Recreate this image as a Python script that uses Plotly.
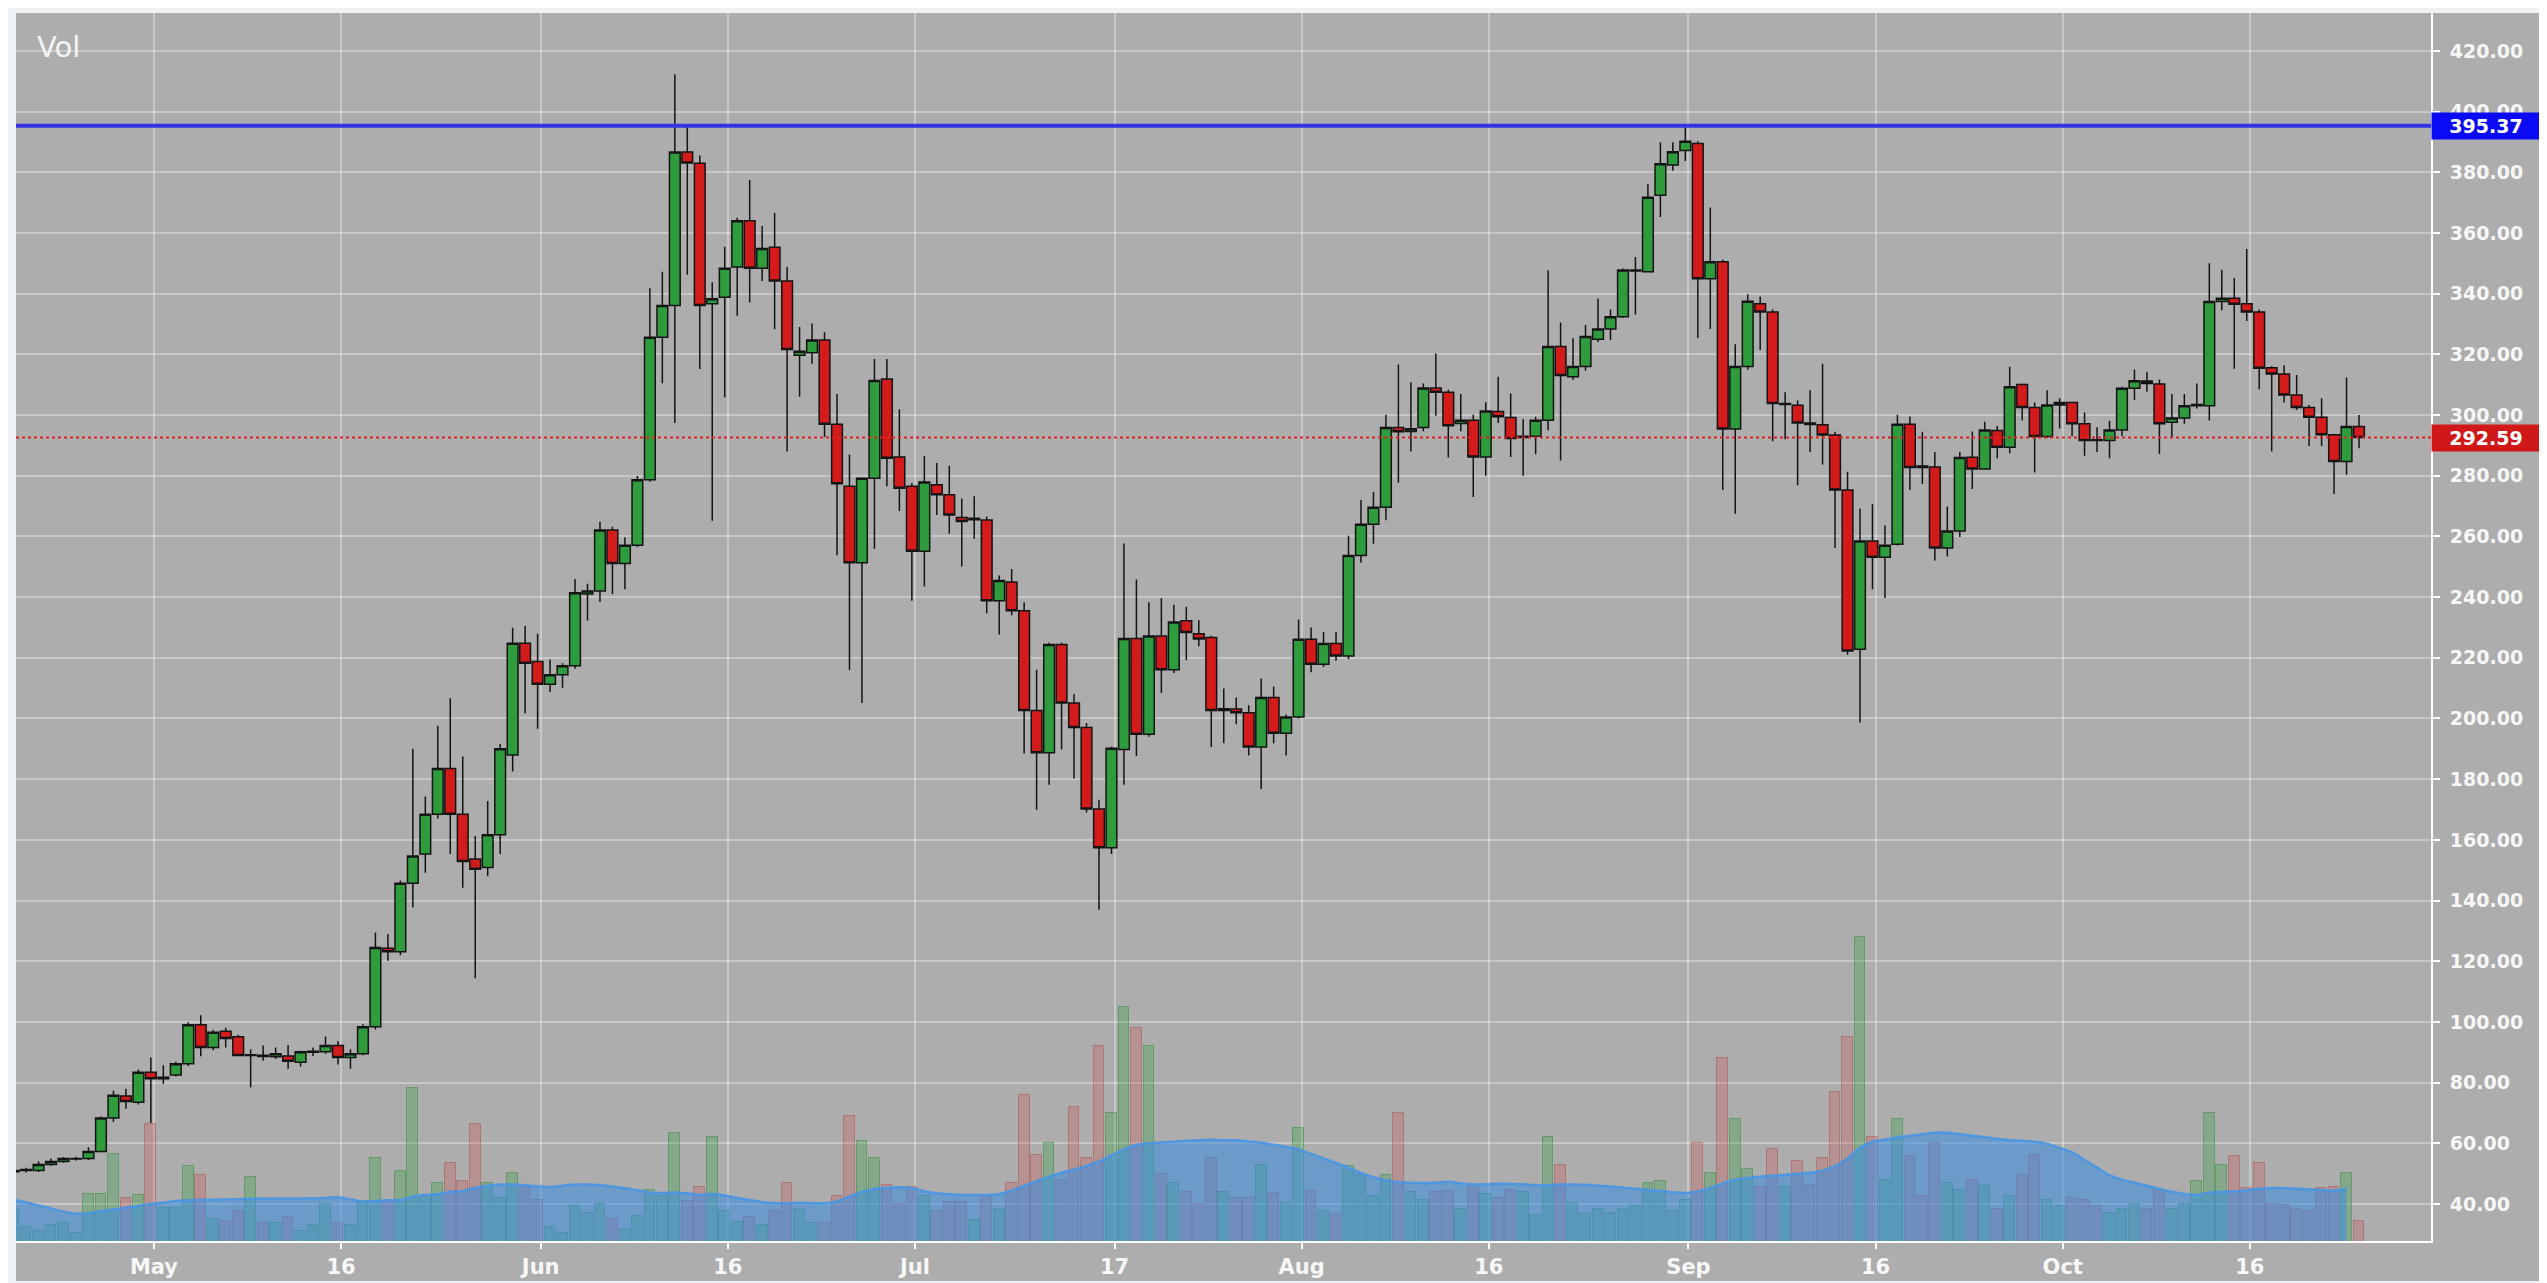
import pandas as pd
import plotly.graph_objects as go

# ---------------- data (daily candles) ----------------
start_date = "2017-04-20"

opens = [
    50.6, 51.0, 51.0, 53.0, 54.0, 54.8, 55.0, 57.3, 68.3, 75.6, 73.5,
    83.4, 81.3, 82.5, 86.2, 99.1, 91.6, 96.9, 95.1, 88.9, 89.0, 88.5, 88.8, 86.7, 90.0, 90.2, 92.2,
    88.3, 89.5, 98.4, 124.3, 123.1, 145.7, 155.3, 168.4, 183.5, 168.4, 153.7, 150.9, 161.7, 188.0, 224.8,
    218.8, 211.3, 214.4, 217.4, 241.0, 242.0, 262.1, 251.1, 257.1, 278.7, 325.6, 336.1, 386.7, 383.0, 336.7,
    338.8, 348.8, 364.0, 348.4, 355.3, 344.2, 319.7, 320.5, 324.7, 297.0, 276.5, 251.3, 279.2, 311.9, 286.2,
    276.5, 255.1, 277.0, 273.7, 266.2, 265.5, 265.4, 238.8, 245.0, 235.5, 202.6, 188.7, 224.4, 205.1, 197.0,
    170.2, 157.4, 189.8, 226.4, 194.8, 227.2, 216.1, 232.2, 227.9, 226.7, 202.6, 203.1, 201.9, 190.6, 206.9, 195.1,
    200.5, 226.1, 217.9, 224.7, 220.6, 253.7, 264.0, 269.6, 295.9, 294.6, 295.9, 308.9, 307.5, 297.2, 298.3,
    286.2, 301.2, 299.2, 292.6, 293.0, 298.3, 322.6, 312.6, 316.0, 325.0, 328.4, 332.4, 347.5, 347.2, 372.4, 382.4,
    387.2, 389.5, 344.9, 350.5, 295.4, 316.0, 336.7, 334.0, 303.5, 303.2, 297.4, 296.8, 293.4, 275.3, 222.8,
    258.5, 253.1, 257.4, 297.0, 283.2, 282.9, 256.2, 261.8, 286.1, 282.2, 294.9, 289.4, 310.1, 302.5, 292.9,
    303.3, 304.1, 297.1, 291.9, 291.6, 295.1, 308.8, 311.2, 310.2, 297.6, 299.0, 303.1, 303.1, 337.4, 338.5,
    336.7, 334.0, 315.6, 313.5, 306.6, 302.5, 299.3, 293.5, 284.7, 296.2,
]
highs = [
    51.5, 51.9, 54.0, 55.0, 55.5, 55.6, 58.7, 68.8, 77.3, 78.0, 84.3,
    88.3, 85.7, 86.9, 99.9, 102.2, 97.3, 98.1, 95.8, 91.0, 92.2, 91.6, 92.4, 90.5, 91.6, 95.2, 93.7,
    91.0, 99.2, 129.5, 129.0, 146.6, 190.0, 174.3, 197.6, 206.7, 187.5, 161.3, 172.8, 191.6, 229.9, 230.5,
    227.9, 219.4, 218.2, 246.0, 244.4, 264.8, 263.2, 259.7, 279.9, 341.8, 347.2, 412.3, 395.2, 385.5, 343.8,
    355.5, 365.0, 377.5, 362.3, 366.6, 348.8, 329.0, 330.2, 327.3, 306.9, 287.0, 279.5, 318.5, 318.5, 301.9,
    277.5, 286.5, 284.2, 283.3, 272.5, 273.2, 266.6, 247.1, 249.3, 238.3, 216.1, 225.0, 225.0, 208.1, 198.5,
    173.2, 190.7, 257.7, 245.8, 238.3, 239.6, 237.5, 236.8, 232.4, 227.3, 209.9, 206.9, 204.4, 213.2, 210.5, 201.3,
    232.6, 230.0, 228.5, 228.5, 260.2, 272.0, 274.6, 300.1, 316.7, 310.8, 310.4, 320.3, 308.3, 306.9, 300.1,
    304.2, 312.6, 307.1, 298.6, 299.4, 347.7, 330.5, 325.3, 329.7, 338.4, 334.8, 348.3, 352.1, 376.1, 389.9, 389.9,
    395.3, 390.2, 368.4, 351.2, 323.3, 339.8, 339.1, 334.8, 307.5, 304.8, 308.2, 316.9, 294.5, 281.3, 269.2,
    270.6, 263.7, 300.1, 299.5, 294.5, 287.8, 269.9, 287.8, 294.6, 297.8, 296.4, 315.9, 310.4, 304.1, 308.2,
    305.5, 304.4, 300.8, 296.0, 298.1, 309.3, 315.0, 314.3, 311.7, 306.9, 306.9, 310.4, 350.0, 347.9, 345.2,
    354.7, 334.8, 316.1, 316.4, 313.2, 303.3, 305.5, 293.8, 312.4, 300.0,
]
lows = [
    49.8, 50.4, 50.5, 52.6, 53.6, 54.3, 54.5, 57.0, 67.0, 71.4, 72.8,
    66.7, 79.6, 82.0, 85.5, 88.7, 90.7, 91.6, 88.7, 78.5, 87.2, 87.8, 84.6, 85.2, 88.8, 89.5, 86.0,
    84.6, 89.0, 97.5, 120.2, 122.0, 137.7, 149.2, 167.0, 155.3, 144.2, 114.4, 148.0, 155.3, 182.5, 201.7,
    196.6, 208.7, 210.1, 216.4, 232.3, 238.4, 241.0, 242.6, 256.5, 278.0, 310.5, 297.4, 346.2, 315.2, 265.2,
    305.9, 332.7, 337.1, 344.2, 328.3, 288.0, 306.0, 316.9, 292.8, 253.8, 216.0, 205.1, 255.9, 276.5, 268.4,
    238.8, 243.5, 267.1, 260.9, 250.1, 259.2, 234.7, 227.7, 234.0, 188.5, 169.9, 178.2, 189.8, 180.2, 169.0,
    137.0, 155.3, 178.2, 187.6, 194.0, 208.4, 215.0, 219.2, 223.8, 190.6, 191.8, 198.1, 187.8, 176.8, 191.8, 187.8,
    200.0, 215.2, 217.0, 219.0, 219.6, 251.3, 257.6, 265.3, 277.7, 288.0, 294.7, 299.8, 286.0, 294.7, 273.0,
    280.0, 297.4, 286.2, 280.0, 287.1, 295.0, 285.0, 311.6, 314.6, 324.1, 324.7, 332.0, 333.1, 347.0, 365.3, 380.5,
    383.7, 325.4, 328.4, 275.3, 267.5, 314.9, 321.4, 291.4, 292.0, 276.9, 287.8, 283.7, 256.2, 221.0, 198.7,
    242.6, 239.7, 257.0, 275.3, 277.3, 252.1, 253.4, 259.8, 275.6, 282.0, 285.8, 287.4, 298.2, 281.1, 292.5,
    295.6, 293.0, 286.6, 287.8, 285.8, 293.1, 305.0, 307.7, 287.2, 292.4, 297.1, 302.2, 298.2, 334.5, 315.3,
    331.0, 308.5, 288.0, 304.1, 301.7, 289.8, 289.8, 274.0, 280.3, 289.1,
]
closes = [
    51.0, 51.4, 53.0, 54.0, 55.0, 55.0, 57.3, 68.3, 75.8, 73.8, 83.4,
    81.3, 81.8, 86.2, 99.1, 91.6, 96.6, 94.5, 88.9, 89.2, 88.6, 89.5, 87.0, 90.2, 90.3, 92.2, 88.3,
    89.5, 98.4, 124.5, 123.1, 145.7, 154.7, 168.4, 183.5, 168.4, 152.9, 150.3, 161.7, 190.0, 224.8, 218.2,
    211.3, 214.4, 217.4, 241.4, 242.0, 262.1, 251.1, 257.1, 278.7, 325.6, 336.1, 386.7, 383.1, 336.1, 338.3,
    348.4, 364.0, 348.4, 354.9, 344.2, 321.6, 321.0, 324.7, 297.0, 277.4, 251.3, 279.2, 311.4, 285.8, 275.9,
    255.1, 277.9, 273.7, 267.1, 264.9, 266.0, 238.8, 245.5, 235.5, 202.6, 188.7, 224.4, 205.1, 197.0, 170.2,
    157.4, 190.2, 226.4, 194.8, 227.2, 216.1, 231.8, 228.3, 226.2, 202.6, 203.2, 201.9, 190.6, 206.9, 195.1, 200.5,
    226.1, 217.9, 224.7, 220.6, 253.7, 264.0, 269.6, 295.9, 294.5, 295.5, 308.9, 307.5, 296.5, 298.3, 286.2,
    301.3, 299.4, 292.3, 293.0, 298.3, 322.6, 313.0, 316.0, 325.9, 328.4, 332.4, 347.8, 347.8, 371.8, 382.8, 386.8,
    390.2, 344.9, 350.5, 295.4, 316.0, 337.5, 334.0, 303.8, 303.8, 297.4, 296.9, 293.4, 275.3, 222.2, 258.5,
    253.1, 257.1, 297.0, 282.7, 282.7, 256.2, 261.8, 286.0, 282.2, 295.1, 289.4, 309.3, 302.5, 292.9, 303.3,
    304.1, 297.1, 291.6, 291.6, 295.1, 308.8, 311.3, 310.4, 297.1, 299.0, 303.1, 303.5, 337.4, 338.5, 336.5,
    334.0, 315.4, 313.5, 306.6, 302.5, 299.3, 293.5, 284.7, 296.2, 292.59,
]

# volume bar tops and volume moving-average, in the chart's shared vertical units
volume = [
    38.1, 32.3, 31.0, 33.2, 33.7, 30.4, 43.4, 43.4, 56.6, 42.0, 42.8,
    66.3, 38.7, 38.7, 52.5, 49.7, 35.0, 34.5, 37.8, 48.9, 33.7, 33.7, 35.6, 31.0, 33.2, 40.0, 33.7,
    33.2, 40.9, 55.2, 40.9, 50.8, 78.1, 42.8, 47.0, 53.6, 47.5, 66.3, 47.0, 42.0, 50.3, 45.5,
    41.4, 32.3, 30.4, 39.2, 37.0, 40.0, 35.0, 31.7, 35.9, 44.7, 42.5, 63.5, 40.9, 45.5, 62.1,
    37.8, 34.2, 35.6, 33.2, 37.8, 47.0, 38.5, 33.7, 33.7, 42.5, 69.1, 60.8, 55.2, 46.4, 40.0,
    45.5, 42.5, 37.8, 40.7, 40.7, 34.8, 42.5, 38.5, 46.9, 76.0, 56.0, 60.0, 48.0, 72.0, 55.0,
    92.0, 70.0, 105.0, 98.0, 92.0, 50.0, 47.0, 44.0, 40.0, 55.0, 44.0, 42.0, 42.0, 53.0, 43.6, 40.3,
    65.0, 44.2, 37.8, 36.7, 52.4, 49.7, 42.5, 49.5, 70.0, 44.0, 41.4, 44.0, 44.4, 38.5, 46.4,
    43.3, 42.0, 44.7, 44.0, 36.5, 62.0, 53.0, 40.3, 37.0, 38.5, 37.0, 38.5, 39.2, 46.9, 47.5, 37.8,
    41.4, 60.0, 50.2, 88.0, 68.0, 51.6, 45.5, 58.0, 45.5, 54.3, 46.4, 55.2, 77.0, 95.0, 128.0,
    62.0, 48.0, 68.0, 55.7, 42.5, 60.0, 46.9, 44.7, 48.0, 46.4, 38.5, 42.5, 49.7, 56.3, 41.4,
    39.2, 42.0, 41.4, 39.2, 37.0, 38.5, 40.0, 38.5, 44.7, 38.5, 40.0, 47.5, 70.0, 53.0, 55.7,
    45.3, 53.5, 40.0, 39.8, 38.5, 37.8, 45.3, 45.5, 50.2, 34.3,
]
volume_ma = [
    41.4, 40.5, 39.5, 38.5, 37.5, 36.8, 37.0, 37.6, 38.2, 38.8, 39.3,
    40.0, 40.4, 41.0, 41.2, 41.4, 41.4, 41.5, 41.6, 41.7, 41.7, 41.7, 41.8, 41.8, 41.9, 42.0, 42.2,
    41.5, 40.8, 41.0, 41.2, 41.3, 42.5, 43.0, 43.2, 44.0, 44.3, 45.3, 46.0, 46.4, 46.4, 46.2,
    45.8, 45.6, 46.0, 46.4, 46.4, 46.2, 45.8, 45.2, 44.5, 43.8, 43.6, 43.8, 43.5, 43.0, 43.3,
    42.8, 42.0, 41.3, 40.6, 40.3, 40.3, 40.4, 40.3, 40.3, 40.8, 42.5, 44.0, 45.0, 45.3, 45.5,
    45.3, 44.2, 43.5, 43.2, 43.0, 43.0, 43.0, 43.2, 44.5, 46.0, 47.5, 49.0, 50.3, 51.3, 52.5,
    54.0, 56.0, 58.0, 59.5, 60.0, 60.3, 60.5, 60.8, 61.0, 61.2, 61.0, 61.0, 60.6, 60.2, 59.5, 58.8,
    58.0, 56.5, 55.0, 53.5, 52.0, 50.2, 48.8, 47.8, 47.2, 47.0, 46.9, 47.0, 47.3, 46.8, 46.4,
    46.5, 46.7, 46.6, 46.5, 46.2, 46.2, 46.4, 46.4, 46.3, 46.0, 45.8, 45.4, 45.0, 44.7, 44.3, 43.8,
    43.6, 44.2, 45.3, 46.8, 48.0, 48.6, 49.0, 49.3, 49.6, 50.0, 50.3, 51.0, 52.5, 55.0, 58.5,
    60.5, 61.2, 62.0, 62.5, 63.0, 63.5, 63.5, 63.0, 62.5, 62.0, 61.5, 61.0, 60.8, 60.5, 59.8,
    58.5, 57.0, 54.5, 52.0, 49.5, 48.0, 47.0, 46.0, 45.0, 44.0, 43.3, 43.0, 43.8, 44.0, 44.2,
    44.5, 45.0, 45.3, 45.2, 45.0, 44.8, 44.6, 44.4, 45.0,
]

tick_dates = ["2017-05-01", "2017-05-16", "2017-06-01", "2017-06-16", "2017-07-01", "2017-07-17",
              "2017-08-01", "2017-08-16", "2017-09-01", "2017-09-16", "2017-10-01", "2017-10-16"]
tick_text = ["May", "16", "Jun", "16", "Jul", "17", "Aug", "16", "Sep", "16", "Oct", "16"]
price_ticks = [40, 60, 80, 100, 120, 140, 160, 180, 200, 220, 240, 260, 280, 300,
               320, 340, 360, 380, 400, 420]
resistance_level = 395.37
last_price = 292.59

# ---------------- figure ----------------
dates = pd.date_range(start_date, periods=len(opens), freq="D")
tick_vals = [pd.Timestamp(d) + pd.Timedelta(hours=6) for d in tick_dates]

up = [c >= o for o, c in zip(opens, closes)]
vol_fill = ["rgba(46,160,60,0.30)" if u else "rgba(215,45,45,0.22)" for u in up]
vol_edge = ["rgba(60,140,70,0.55)" if u else "rgba(170,70,70,0.45)" for u in up]

# the page body adds an 8px offset; the figure is sized/placed to compensate
OFF = 8
VW, VH = 2547, 1283                    # browser viewport
W, H = VW - OFF, VH - OFF              # figure size
PL, PR, PT, PB = 16, 2431, 13, 1241    # plot area edges in viewport pixels
L, T = PL - OFF, PT - OFF
R, B = (VW - OFF) - (PR - OFF), (VH - OFF) - (PB - OFF)
pw, ph = PR - PL, PB - PT


def px_x(p):
    """viewport pixel x -> paper x"""
    return (p - PL) / pw


def px_y(p):
    """viewport pixel y -> paper y"""
    return (PB - p) / ph


fig = go.Figure()

fig.add_trace(go.Bar(
    x=dates, y=volume,
    marker=dict(color=vol_fill, line=dict(color=vol_edge, width=1)),
    width=0.86 * 86400000, hoverinfo="skip",
))
fig.add_trace(go.Scatter(
    x=dates[:len(volume_ma)], y=volume_ma, mode="lines", fill="tozeroy",
    line=dict(color="rgba(75,150,225,0.95)", width=2.5, shape="spline"),
    fillcolor="rgba(55,140,225,0.55)", hoverinfo="skip",
))
fig.add_trace(go.Candlestick(
    x=dates, open=opens, high=highs, low=lows, close=closes,
    increasing=dict(fillcolor="#2E9B3C", line=dict(color="#141414", width=1.5)),
    decreasing=dict(fillcolor="#D41B1B", line=dict(color="#141414", width=1.5)),
    whiskerwidth=0,
))

x_font = dict(family="DejaVu Sans", size=21, color="#F7F7F7", weight="bold")
y_font = dict(family="DejaVu Sans", size=19, color="#F7F7F7", weight="bold")
grid_col = "rgba(255,255,255,0.32)"

fig.update_layout(
    width=W, height=H,
    margin=dict(l=L, r=R, t=T, b=B, autoexpand=False),
    paper_bgcolor="#EEF2F5",
    plot_bgcolor="#ADADAD",
    showlegend=False,
    bargap=0, boxgap=0.14, boxgroupgap=0,
    xaxis=dict(
        type="date", automargin=False,
        range=["2017-04-20 04:34", "2017-10-30 18:29"],
        tickvals=tick_vals, ticktext=tick_text,
        showgrid=True, gridcolor=grid_col, gridwidth=1.5,
        ticks="outside", ticklen=6, tickwidth=1.5, tickcolor="white",
        showline=True, linecolor="white", linewidth=2,
        tickfont=x_font, zeroline=False,
        rangeslider=dict(visible=False),
    ),
    yaxis=dict(
        side="right", automargin=False, range=[27.8, 432.5],
        tickvals=price_ticks, ticktext=[f"{v:.2f}" for v in price_ticks],
        showgrid=True, gridcolor=grid_col, gridwidth=1.5,
        ticks="outside", ticklen=7, tickwidth=1.5, tickcolor="white",
        showline=True, linecolor="white", linewidth=2,
        tickfont=y_font, zeroline=False, ticklabelstandoff=6,
    ),
    shapes=[
        dict(type="rect", xref="paper", yref="paper", layer="below",
             x0=0, x1=px_x(VW - 4), y0=px_y(VH - 2), y1=1,
             fillcolor="#ADADAD", line=dict(width=0)),
        dict(type="line", xref="paper", yref="y", x0=0, x1=1,
             y0=resistance_level, y1=resistance_level,
             line=dict(color="#3434E2", width=4)),
        dict(type="line", xref="paper", yref="y", x0=0, x1=1,
             y0=last_price, y1=last_price,
             line=dict(color="#E3201B", width=2, dash="dot")),
    ],
    annotations=[
        dict(text="Vol", xref="paper", yref="paper", x=px_x(35), y=px_y(47),
             xanchor="left", yanchor="middle", showarrow=False,
             font=dict(family="DejaVu Sans", size=29, color="#F4F4F4")),
        dict(text=f"{resistance_level:.2f}", xref="paper", yref="y", x=1, y=resistance_level,
             xanchor="left", yanchor="middle", showarrow=False,
             bgcolor="#0A0AF5", width=108, height=26, align="center", borderpad=0,
             font=dict(family="DejaVu Sans", size=19, color="white", weight="bold")),
        dict(text=f"{last_price:.2f}", xref="paper", yref="y", x=1, y=last_price,
             xanchor="left", yanchor="middle", showarrow=False,
             bgcolor="#D01818", width=108, height=26, align="center", borderpad=0,
             font=dict(family="DejaVu Sans", size=19, color="white", weight="bold")),
    ],
)

fig.write_html("out.html")
